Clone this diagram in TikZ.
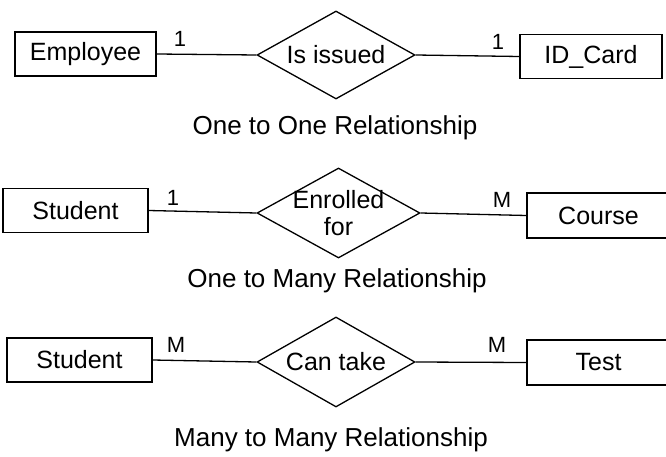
\documentclass[tikz,border=0pt]{standalone}
\usepackage{fontspec}
\setmainfont{Liberation Sans}
\usetikzlibrary{shapes.geometric}

\begin{document}
\begin{tikzpicture}[x=1pt, y=-1pt]
  \tikzstyle{entity}=[rectangle, draw, line width=1.3pt, minimum height=44pt, inner sep=0pt, font=\fontsize{25}{27}\selectfont]
  \tikzstyle{rel}=[diamond, draw, line width=1.3pt, inner sep=0pt, minimum width=158pt, minimum height=88pt]
  \tikzstyle{relname}=[align=center, font=\fontsize{25}{27}\selectfont]
  \tikzstyle{card}=[inner sep=0pt, font=\fontsize{22}{24}\selectfont]
  \tikzstyle{caption}=[inner sep=0pt, font=\fontsize{26}{28}\selectfont]
  \tikzstyle{link}=[line width=1.3pt]

  \useasboundingbox (0,0) rectangle (666,457);

  % one to one
  \node[entity, minimum width=141pt] (employee) at (85.5, 54)   {Employee};
  \node[rel, label={[relname]center:Is issued}] (issued) at (336, 55) {};
  \node[entity, minimum width=142pt] (idcard)   at (591, 56.5)  {ID\_Card};
  \node[card] (one1)  at (180, 39) {1};
  \node[card] (one2)  at (498, 42) {1};
  \node[caption] (cap1) at (335, 128) {One to One Relationship};

  \path[link] (employee.east) edge (issued.west);
  \path[link] (issued.east) edge (idcard.west);

  % one to many
  \node[entity, minimum width=145pt] (student1) at (75.5, 210.5) {Student};
  \node[rel, minimum width=163pt, minimum height=90pt,
        label={[relname]center:Enrolled\\for}] (enrolled) at (338.5, 213) {};
  \node[entity, minimum width=143pt, minimum height=45pt] (course) at (598.5, 215.5) {Course};
  \node[card] (one3)  at (173, 198) {1};
  \node[card] (many1) at (502, 200) {M};
  \node[caption] (cap2) at (337, 281) {One to Many Relationship};

  \path[link] (student1.east) edge (enrolled.west);
  \path[link] (enrolled.east) edge (course.west);

  % many to many
  \node[entity, minimum width=145pt] (student2) at (79.5, 360) {Student};
  \node[rel, minimum height=90pt, label={[relname]center:Can take}] (cantake) at (336, 362) {};
  \node[entity, minimum width=143pt, minimum height=45pt] (test) at (598.5, 362.5) {Test};
  \node[card] (many2) at (176, 345) {M};
  \node[card] (many3) at (497, 345) {M};
  \node[caption] (cap3) at (331, 440) {Many to Many Relationship};

  \path[link] (student2.east) edge (cantake.west);
  \path[link] (cantake.east) edge (test.west);
\end{tikzpicture}
\end{document}
